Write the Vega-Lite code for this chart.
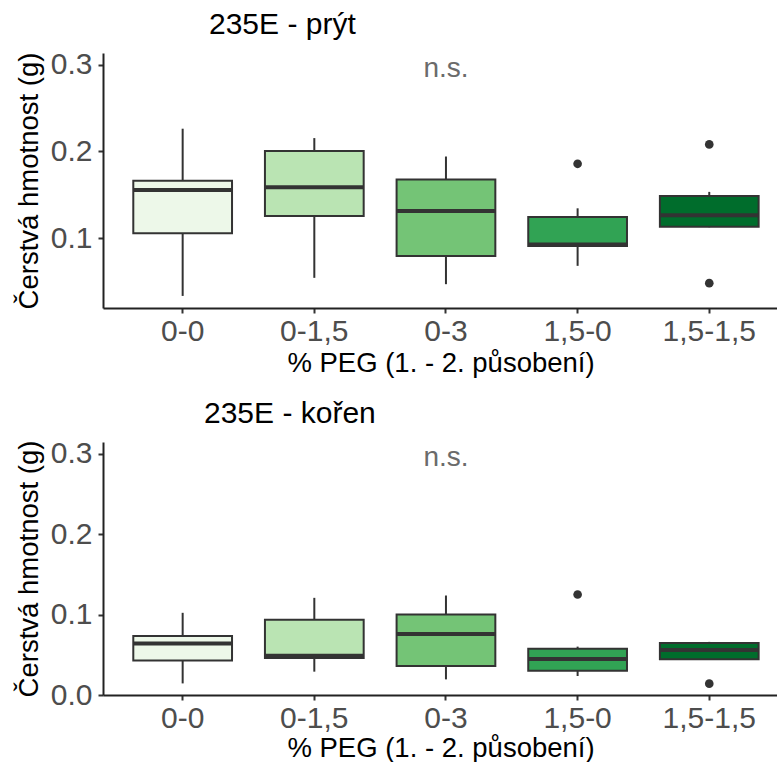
{
  "$schema": "https://vega.github.io/schema/vega-lite/v6.json",
  "background": "white",
  "padding": {"left": 15, "top": 9, "right": 0, "bottom": 0},
  "spacing": 21,
  "config": {
    "font": "Liberation Sans",
    "view": {"stroke": null},
    "axis": {
      "grid": false,
      "domainColor": "#222222",
      "domainWidth": 2,
      "tickColor": "#333333",
      "tickWidth": 2,
      "tickSize": 5,
      "labelColor": "#4D4D4D",
      "labelFont": "Liberation Sans",
      "labelFontSize": 30,
      "titleColor": "#000000",
      "titleFont": "Liberation Sans",
      "titleFontSize": 27.5,
      "titleFontWeight": "normal"
    },
    "title": {"font": "Liberation Sans", "fontSize": 30, "fontWeight": "normal", "color": "#000000", "anchor": "start", "frame": "group"}
  },
  "datasets": {
    "boxes": [
      {"cast": "prýt", "group": "0-0", "lo": 0.0338, "q1": 0.1058, "med": 0.1558, "q3": 0.1662, "hi": 0.2262},
      {"cast": "prýt", "group": "0-1,5", "lo": 0.0546, "q1": 0.1258, "med": 0.1589, "q3": 0.2004, "hi": 0.2154},
      {"cast": "prýt", "group": "0-3", "lo": 0.0473, "q1": 0.0796, "med": 0.1315, "q3": 0.1677, "hi": 0.1942},
      {"cast": "prýt", "group": "1,5-0", "lo": 0.0684, "q1": 0.0912, "med": 0.0930, "q3": 0.1246, "hi": 0.1346},
      {"cast": "prýt", "group": "1,5-1,5", "lo": 0.1128, "q1": 0.1135, "med": 0.1266, "q3": 0.1489, "hi": 0.1535},
      {"cast": "kořen", "group": "0-0", "lo": 0.0144, "q1": 0.0429, "med": 0.0639, "q3": 0.0732, "hi": 0.1021},
      {"cast": "kořen", "group": "0-1,5", "lo": 0.0290, "q1": 0.0460, "med": 0.0489, "q3": 0.0934, "hi": 0.1207},
      {"cast": "kořen", "group": "0-3", "lo": 0.0194, "q1": 0.0361, "med": 0.0759, "q3": 0.1000, "hi": 0.1236},
      {"cast": "kořen", "group": "1,5-0", "lo": 0.0236, "q1": 0.0302, "med": 0.0448, "q3": 0.0576, "hi": 0.0601},
      {"cast": "kořen", "group": "1,5-1,5", "lo": 0.0436, "q1": 0.0443, "med": 0.0560, "q3": 0.0647, "hi": 0.0660}
    ],
    "outliers": [
      {"cast": "prýt", "group": "1,5-0", "value": 0.1858},
      {"cast": "prýt", "group": "1,5-1,5", "value": 0.2081},
      {"cast": "prýt", "group": "1,5-1,5", "value": 0.0485},
      {"cast": "kořen", "group": "1,5-0", "value": 0.1248},
      {"cast": "kořen", "group": "1,5-1,5", "value": 0.0141}
    ],
    "tests": [
      {"cast": "prýt", "group": "0-3", "value": 0.3, "label": "n.s."},
      {"cast": "kořen", "group": "0-3", "value": 0.3, "label": "n.s."}
    ]
  },
  "resolve": {"scale": {"x": "independent", "y": "independent"}},
  "vconcat": [
    {
      "title": {"text": "235E - prýt", "dx": 106, "offset": 10},
      "width": 675,
      "height": 255,
      "layer": [
        {
          "data": {"name": "boxes"},
          "transform": [{"filter": "datum.cast == 'prýt'"}],
          "mark": {"type": "rule", "color": "#333333", "strokeWidth": 2},
          "encoding": {
            "x": {"field": "group", "type": "nominal"},
            "y": {"field": "lo", "type": "quantitative"},
            "y2": {"field": "hi"}
          }
        },
        {
          "data": {"name": "boxes"},
          "transform": [{"filter": "datum.cast == 'prýt'"}],
          "mark": {"type": "bar", "stroke": "#333333", "strokeWidth": 2},
          "encoding": {
            "x": {"field": "group", "type": "nominal"},
            "y": {"field": "q1", "type": "quantitative"},
            "y2": {"field": "q3"},
            "fill": {
              "field": "group", "type": "nominal", "legend": null,
              "scale": {"domain": ["0-0", "0-1,5", "0-3", "1,5-0", "1,5-1,5"], "range": ["#edf8e9", "#bae4b3", "#74c476", "#31a354", "#006d2c"]}
            }
          }
        },
        {
          "data": {"name": "boxes"},
          "transform": [{"filter": "datum.cast == 'prýt'"}],
          "mark": {"type": "tick", "color": "#333333", "thickness": 4, "size": 99, "opacity": 1},
          "encoding": {
            "x": {"field": "group", "type": "nominal"},
            "y": {"field": "med", "type": "quantitative"}
          }
        },
        {
          "data": {"name": "outliers"},
          "transform": [{"filter": "datum.cast == 'prýt'"}],
          "mark": {"type": "point", "filled": true, "color": "#333333", "size": 75, "opacity": 1},
          "encoding": {
            "x": {"field": "group", "type": "nominal"},
            "y": {"field": "value", "type": "quantitative"}
          }
        },
        {
          "data": {"name": "tests"},
          "transform": [{"filter": "datum.cast == 'prýt'"}],
          "mark": {"type": "text", "color": "#6b6b6b", "fontSize": 28, "baseline": "middle", "dy": 4},
          "encoding": {
            "x": {"field": "group", "type": "nominal"},
            "y": {"field": "value", "type": "quantitative"},
            "text": {"field": "label"}
          }
        }
      ],
      "encoding": {
        "x": {
          "field": "group", "type": "nominal",
          "sort": ["0-0", "0-1,5", "0-3", "1,5-0", "1,5-1,5"],
          "scale": {"paddingInner": 0.25, "paddingOuter": 0.1886, "align": 0.61},
          "axis": {"title": "% PEG (1. - 2. působení)", "labelAngle": 0, "labelPadding": 3, "titlePadding": 3}
        },
        "y": {
          "type": "quantitative",
          "scale": {"domain": [0.0199, 0.3133], "nice": false, "zero": false},
          "axis": {"title": "Čerstvá hmotnost (g)", "values": [0.1, 0.2, 0.3], "format": ".1f", "labelPadding": 6, "titlePadding": 7}
        }
      }
    },
    {
      "title": {"text": "235E - kořen", "dx": 101, "offset": 10},
      "width": 675,
      "height": 253,
      "layer": [
        {
          "data": {"name": "boxes"},
          "transform": [{"filter": "datum.cast == 'kořen'"}],
          "mark": {"type": "rule", "color": "#333333", "strokeWidth": 2},
          "encoding": {
            "x": {"field": "group", "type": "nominal"},
            "y": {"field": "lo", "type": "quantitative"},
            "y2": {"field": "hi"}
          }
        },
        {
          "data": {"name": "boxes"},
          "transform": [{"filter": "datum.cast == 'kořen'"}],
          "mark": {"type": "bar", "stroke": "#333333", "strokeWidth": 2},
          "encoding": {
            "x": {"field": "group", "type": "nominal"},
            "y": {"field": "q1", "type": "quantitative"},
            "y2": {"field": "q3"},
            "fill": {
              "field": "group", "type": "nominal", "legend": null,
              "scale": {"domain": ["0-0", "0-1,5", "0-3", "1,5-0", "1,5-1,5"], "range": ["#edf8e9", "#bae4b3", "#74c476", "#31a354", "#006d2c"]}
            }
          }
        },
        {
          "data": {"name": "boxes"},
          "transform": [{"filter": "datum.cast == 'kořen'"}],
          "mark": {"type": "tick", "color": "#333333", "thickness": 4, "size": 99, "opacity": 1},
          "encoding": {
            "x": {"field": "group", "type": "nominal"},
            "y": {"field": "med", "type": "quantitative"}
          }
        },
        {
          "data": {"name": "outliers"},
          "transform": [{"filter": "datum.cast == 'kořen'"}],
          "mark": {"type": "point", "filled": true, "color": "#333333", "size": 75, "opacity": 1},
          "encoding": {
            "x": {"field": "group", "type": "nominal"},
            "y": {"field": "value", "type": "quantitative"}
          }
        },
        {
          "data": {"name": "tests"},
          "transform": [{"filter": "datum.cast == 'kořen'"}],
          "mark": {"type": "text", "color": "#6b6b6b", "fontSize": 28, "baseline": "middle", "dy": 4},
          "encoding": {
            "x": {"field": "group", "type": "nominal"},
            "y": {"field": "value", "type": "quantitative"},
            "text": {"field": "label"}
          }
        }
      ],
      "encoding": {
        "x": {
          "field": "group", "type": "nominal",
          "sort": ["0-0", "0-1,5", "0-3", "1,5-0", "1,5-1,5"],
          "scale": {"paddingInner": 0.25, "paddingOuter": 0.1886, "align": 0.61},
          "axis": {"title": "% PEG (1. - 2. působení)", "labelAngle": 0, "labelPadding": 3, "titlePadding": 1}
        },
        "y": {
          "type": "quantitative",
          "scale": {"domain": [0, 0.3143], "nice": false, "zero": false},
          "axis": {"title": "Čerstvá hmotnost (g)", "values": [0, 0.1, 0.2, 0.3], "format": ".1f", "labelPadding": 6, "titlePadding": 7}
        }
      }
    }
  ]
}
